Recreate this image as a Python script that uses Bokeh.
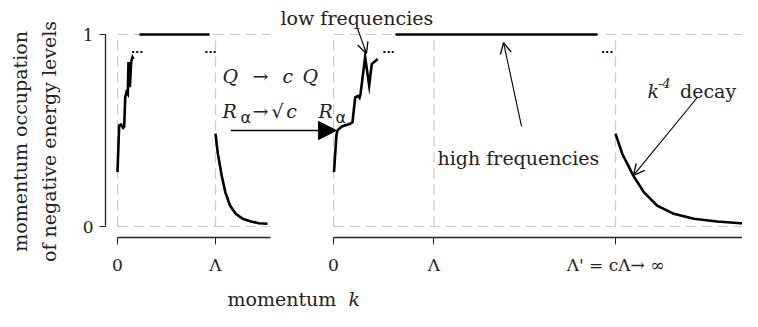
import math
from bokeh.plotting import figure
from bokeh.models import Range1d, LinearAxis, FixedTicker, Label, Arrow, NormalHead, OpenHead
from bokeh.embed import file_html
from bokeh.resources import INLINE
from bokeh.core.properties import value

# ---------------- data ----------------
# left panel (momentum in units of Lambda)
left_rise_k = [0.0, 0.017, 0.034, 0.058, 0.068, 0.079, 0.092, 0.105, 0.112, 0.126, 0.140, 0.153, 0.163]
left_rise_v = [0.283, 0.526, 0.531, 0.514, 0.520, 0.673, 0.700, 0.690, 0.856, 0.726, 0.860, 0.882, 0.873]
left_flat_k = [0.224, 0.939]
left_flat_v = [1.0, 1.0]
left_decay_k = [1.0, 1.024, 1.063, 1.100, 1.148, 1.207, 1.278, 1.361, 1.443, 1.531]
left_decay_v = [0.484, 0.379, 0.266, 0.179, 0.109, 0.066, 0.040, 0.026, 0.017, 0.014]
left_dots_k = [0.201, 0.949]

# right panel (after rescaling, Lambda' = c Lambda)
right_rise_k = [0.005, 0.030, 0.043, 0.083, 0.166, 0.189, 0.216, 0.242, 0.259, 0.269, 0.315, 0.355, 0.381, 0.441]
right_rise_v = [0.283, 0.480, 0.503, 0.521, 0.535, 0.543, 0.673, 0.680, 0.670, 0.690, 0.882, 0.734, 0.847, 0.873]
right_flat_k = [0.617, 2.627]
right_flat_v = [1.0, 1.0]
right_decay_k = [2.806, 2.873, 2.982, 3.088, 3.221, 3.386, 3.585, 3.818, 4.050, 4.229, 4.300]
right_decay_v = [0.484, 0.379, 0.266, 0.179, 0.109, 0.066, 0.040, 0.026, 0.017, 0.014, 0.013]
right_dots_k = [0.547, 2.723]
dots_v = 0.927

# ticks
y_ticks = [0, 1]
y_tick_labels = ["0", "1"]
left_ticks = [0, 1]
left_tick_labels = ["0", "Λ"]
right_ticks = [0, 1, 2.806]
right_tick_labels = ["0", "Λ", "Λ' = cΛ→ ∞"]
left_axis_end = 1.56
right_axis_end = 4.30
y_label_lines = ["momentum occupation", "of negative energy levels"]

# ---------------- figure ----------------
SERIF = "DejaVu Serif"
FS = "19px"
TFS = "17px"
GRID = "#c8c8c8"
INK = "#222222"

W, H = 742, 311
x_left = Range1d(-1.1939, 6.3776)
x_right = Range1d(-3.3134, 4.0697)
y_rng = Range1d(-0.4427, 1.1771)
y_axis_x = -0.12245      # where the y axis sits (left units)
x_axis_y = -0.0573       # where the x axes sit

p = figure(width=W, height=H, output_backend="svg", toolbar_location=None,
           x_range=x_left, y_range=y_rng, x_axis_type=None, y_axis_type=None,
           min_border=0, min_border_left=0, min_border_right=0,
           min_border_top=0, min_border_bottom=0)
p.extra_x_ranges = {"right": x_right}
p.outline_line_color = None
p.background_fill_color = "white"
p.border_fill_color = "white"


def style_axis(ax, tick_len):
    ax.major_tick_out = tick_len
    ax.major_tick_in = 0
    ax.minor_tick_line_color = None
    ax.axis_line_color = INK
    ax.major_tick_line_color = INK
    ax.axis_line_width = 1.3
    ax.major_label_text_font = SERIF
    ax.major_label_text_font_size = TFS
    ax.major_label_text_color = INK
    return ax


ya = LinearAxis(bounds=(0, 1), ticker=FixedTicker(ticks=y_ticks),
                major_label_overrides=dict(zip(y_ticks, y_tick_labels)),
                fixed_location=y_axis_x)
style_axis(ya, 6)
ya.major_label_standoff = 6
p.add_layout(ya, "left")


def make_xaxis(range_name, ticks, labels, end):
    ax = LinearAxis(x_range_name=range_name, bounds=(0, end),
                    ticker=FixedTicker(ticks=ticks),
                    major_label_overrides=dict(zip(ticks, labels)),
                    fixed_location=x_axis_y)
    style_axis(ax, 7)
    ax.major_label_standoff = 10
    return ax


p.add_layout(make_xaxis("default", left_ticks, left_tick_labels, left_axis_end), "below")
p.add_layout(make_xaxis("right", right_ticks, right_tick_labels, right_axis_end), "below")

# dashed reference lines at the tick values
grid_kw = dict(line_color=GRID, line_dash="10 6", line_width=1.2)
p.segment(x0=[0] * len(y_ticks), x1=[left_axis_end] * len(y_ticks), y0=y_ticks, y1=y_ticks, **grid_kw)
p.segment(x0=left_ticks, x1=left_ticks, y0=[0] * len(left_ticks), y1=[1] * len(left_ticks), **grid_kw)
p.segment(x0=[0] * len(y_ticks), x1=[right_axis_end] * len(y_ticks), y0=y_ticks, y1=y_ticks,
          x_range_name="right", **grid_kw)
p.segment(x0=right_ticks, x1=right_ticks, y0=[0] * len(right_ticks), y1=[1] * len(right_ticks),
          x_range_name="right", **grid_kw)

# curves
lk = dict(line_color="black", line_width=2.6, line_join="miter")
p.line(left_rise_k, left_rise_v, **lk)
p.line(left_flat_k, left_flat_v, **lk)
p.line(left_decay_k, left_decay_v, **lk)
p.line(right_rise_k, right_rise_v, x_range_name="right", **lk)
p.line(right_flat_k, right_flat_v, x_range_name="right", **lk)
p.line(right_decay_k, right_decay_v, x_range_name="right", **lk)

dot_kw = dict(text_align="center", text_baseline="alphabetic", text_font_size="11px",
              text_font_style="bold", text_font=value("DejaVu Sans"), text_color="black")
p.text(x=left_dots_k, y=[dots_v] * len(left_dots_k), text=["..."] * len(left_dots_k), **dot_kw)
p.text(x=right_dots_k, y=[dots_v] * len(right_dots_k), text=["..."] * len(right_dots_k),
       x_range_name="right", **dot_kw)


# annotations
def lab(x, y, text, style="normal", size=FS, font=SERIF, align="left", rng="right",
        angle=0, baseline="alphabetic"):
    p.add_layout(Label(x=x, y=y, text=text, x_range_name=rng, text_font=font,
                       text_font_size=size, text_font_style=style, text_align=align,
                       text_baseline=baseline, text_color=INK, angle=angle))


# y axis title (two rotated lines)
lab(-1.0, 0.443, y_label_lines[0], rng="default", angle=math.pi / 2, align="center", baseline="middle")
lab(-0.694, 0.443, y_label_lines[1], rng="default", angle=math.pi / 2, align="center", baseline="middle")

# x axis title
lab(-1.055, -0.375, "momentum")
lab(0.149, -0.375, "k", "italic")

lab(-1.104, 0.786, "Q", "italic")
lab(-0.806, 0.786, "→")
lab(-0.507, 0.786, "c", "italic")
lab(-0.308, 0.786, "Q", "italic")

lab(-1.104, 0.604, "R", "italic")
lab(-0.925, 0.568, "α", size="16px", font="DejaVu Sans")
lab(-0.806, 0.604, "→")
lab(-0.617, 0.604, "√")
lab(-0.470, 0.604, "c", "italic")
lab(-0.149, 0.604, "R", "italic")
lab(0.020, 0.568, "α", size="16px", font="DejaVu Sans")

lab(-0.527, 1.0885, "low frequencies")
lab(1.035, 0.359, "high frequencies")
lab(3.124, 0.708, "k", "italic")
lab(3.228, 0.745, "-4", "italic", size="13px")
lab(3.448, 0.708, "decay")

# arrows
p.add_layout(Arrow(end=NormalHead(size=18, fill_color="black", line_color="black"),
                   x_start=-1.02, y_start=0.5, x_end=0.03, y_end=0.5,
                   line_width=1.5, line_color="black", x_range_name="right"))
open_kw = dict(line_width=1.1, line_color="black", x_range_name="right")
p.add_layout(Arrow(end=OpenHead(size=11, line_width=1.3, line_color="black"),
                   x_start=0.239, y_start=1.031, x_end=0.328, y_end=0.901, **open_kw))
p.add_layout(Arrow(end=OpenHead(size=11, line_width=1.3, line_color="black"),
                   x_start=1.871, y_start=0.521, x_end=1.692, y_end=0.958, **open_kw))
p.add_layout(Arrow(end=OpenHead(size=11, line_width=1.3, line_color="black"),
                   x_start=3.620, y_start=0.672, x_end=2.985, y_end=0.266, **open_kw))

open("out.html", "w").write(file_html(p, INLINE))
